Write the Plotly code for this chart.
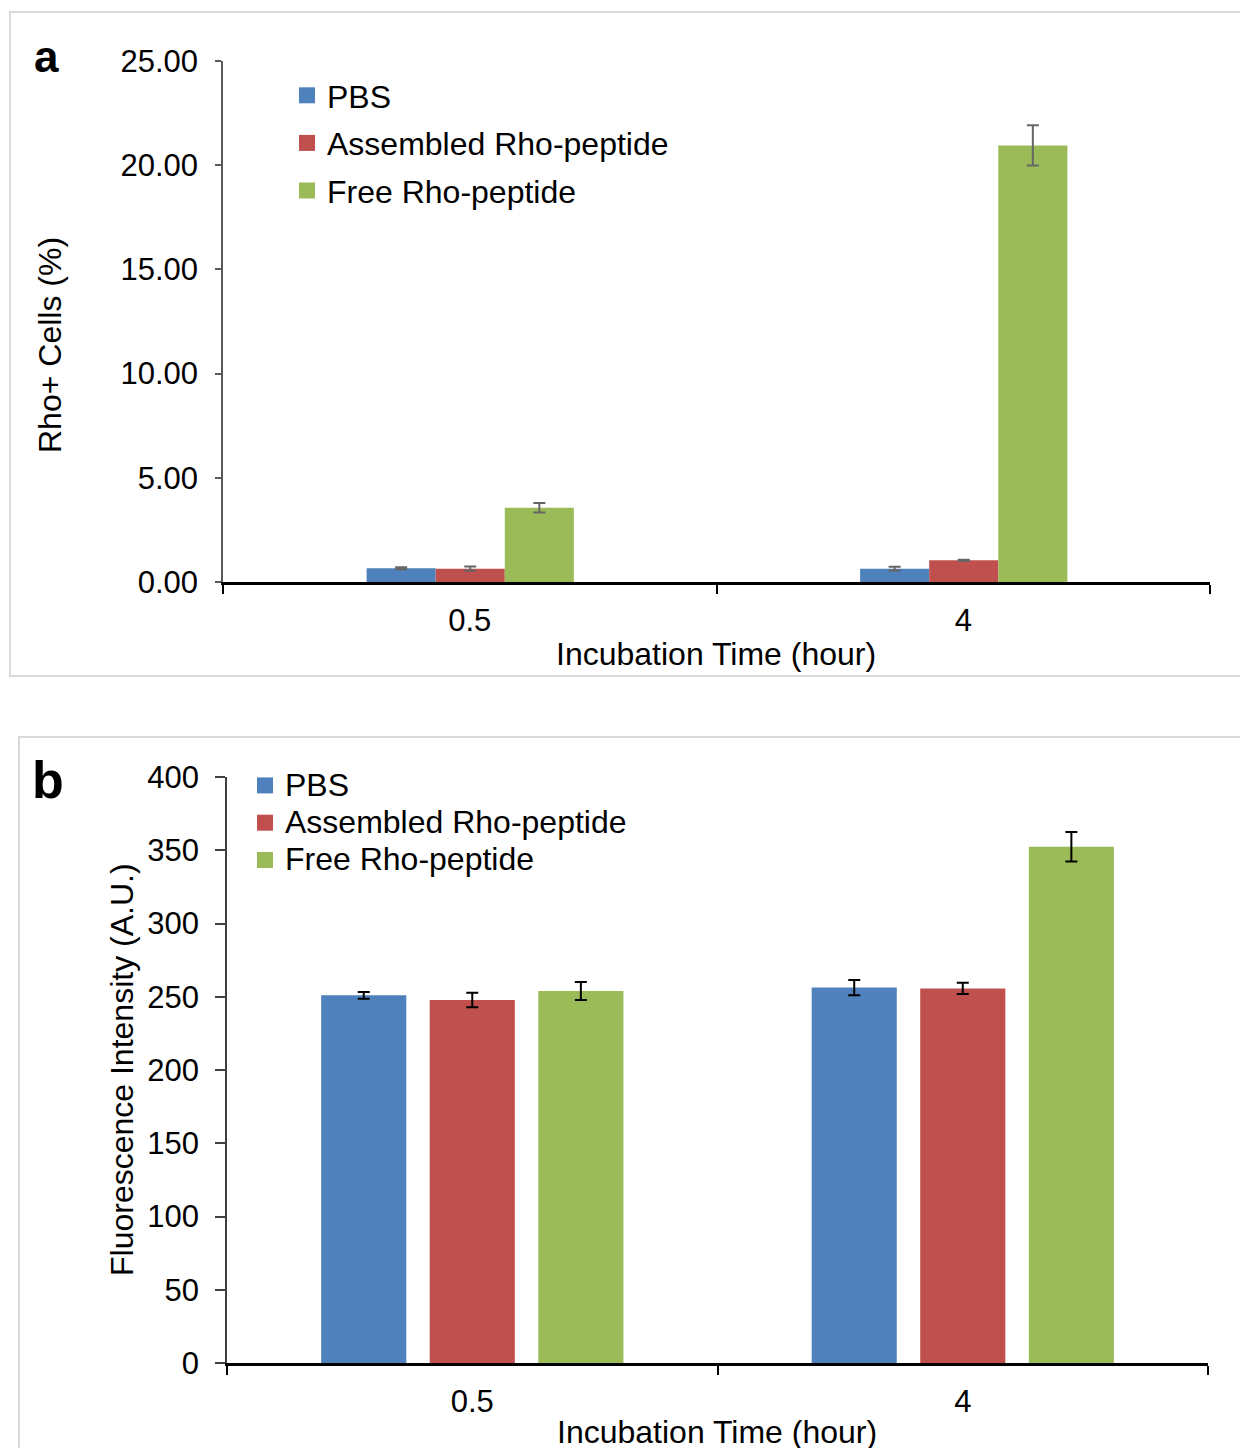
import plotly.graph_objects as go

W, H = 1248, 1448
OFF = 8  # page body margin in the browser

categories = ["0.5", "4"]
series_names = ["PBS", "Assembled Rho-peptide", "Free Rho-peptide"]
colors = ["#4F81BD", "#C0504D", "#9BBB59"]

# Panel a: Rho+ cells (%)
a_values = [[0.66, 0.64], [0.64, 1.04], [3.56, 20.95]]
a_errors = [[0.05, 0.09], [0.10, 0.03], [0.23, 0.97]]
a_ticks = [0, 5, 10, 15, 20, 25]

# Panel b: fluorescence intensity (A.U.)
b_values = [[251.0, 256.3], [247.8, 255.7], [253.9, 352.4]]
b_errors = [[2.3, 5.2], [5.0, 3.9], [6.2, 10.0]]
b_ticks = [0, 50, 100, 150, 200, 250, 300, 350, 400]

FONT = "Arial, Liberation Sans, sans-serif"

def px(v):  # screen x pixel -> paper
    return (v - OFF) / W

def py(v):  # screen y pixel -> paper
    return 1 - (v - OFF) / H

fig = go.Figure()

a_width = 0.14
a_offsets = [-0.209, -0.069, 0.071]
b_width = 0.1735
b_offsets = [-0.308, -0.0867, 0.1347]

for i, name in enumerate(series_names):
    fig.add_trace(go.Bar(
        x=categories, y=a_values[i], name=name, showlegend=False,
        marker=dict(color=colors[i], line=dict(width=0)),
        width=a_width, offset=a_offsets[i],
        error_y=dict(type="data", array=a_errors[i], color="#666666", thickness=2, width=6),
        xaxis="x", yaxis="y",
    ))
    fig.add_trace(go.Scatter(
        x=[None], y=[None], mode="markers", name=name,
        marker=dict(symbol="square", size=16, color=colors[i], line=dict(width=0)),
        xaxis="x", yaxis="y", legend="legend", legendgroup="a" + str(i),
    ))
for i, name in enumerate(series_names):
    fig.add_trace(go.Bar(
        x=categories, y=b_values[i], name=name, showlegend=False,
        marker=dict(color=colors[i], line=dict(width=0)),
        width=b_width, offset=b_offsets[i],
        error_y=dict(type="data", array=b_errors[i], color="#000000", thickness=2, width=6),
        xaxis="x2", yaxis="y2",
    ))
    fig.add_trace(go.Scatter(
        x=[None], y=[None], mode="markers",
        name='<span style="font-size:32px">' + name + '</span>',
        marker=dict(symbol="square", size=16, color=colors[i], line=dict(width=0)),
        xaxis="x2", yaxis="y2", legend="legend2", legendgroup="b" + str(i),
    ))

xcommon = dict(type="category", range=[-0.5, 1.5], showline=True, linecolor="#000000",
               linewidth=2.5, ticks="outside", tickson="boundaries", ticklen=9,
               tickcolor="#000000", tickwidth=1.5, showgrid=False, zeroline=False,
               tickfont=dict(family=FONT, size=31, color="#000000"), ticklabelstandoff=9)
ycommon = dict(showline=True, linewidth=1.5, ticks="outside", tickwidth=1.5,
               showgrid=False, zeroline=False,
               tickfont=dict(family=FONT, size=31, color="#000000"))

fig.update_layout(
    width=W, height=H, margin=dict(l=0, r=0, t=0, b=0, autoexpand=False),
    paper_bgcolor="white", plot_bgcolor="white", barmode="overlay",
    font=dict(family=FONT, size=32, color="#000000"),
    xaxis=dict(xcommon, domain=[px(223), px(1210)], anchor="y"),
    yaxis=dict(ycommon, domain=[py(582), py(61)], range=[0, 25], tickvals=a_ticks,
               tickformat=".2f", anchor="x", linecolor="#595959", tickcolor="#595959",
               ticklen=6, ticklabelstandoff=11),
    xaxis2=dict(xcommon, domain=[px(227), px(1208)], anchor="y2"),
    yaxis2=dict(ycommon, domain=[py(1363), py(777)], range=[0, 400], tickvals=b_ticks,
                anchor="x2", linecolor="#404040", tickcolor="#404040",
                ticklen=10, ticklabelstandoff=10),
    legend=dict(x=px(287), y=py(68), xanchor="left", yanchor="top", bgcolor="rgba(0,0,0,0)",
                font=dict(family=FONT, size=32), tracegroupgap=3, itemclick=False),
    legend2=dict(x=px(245), y=py(762), xanchor="left", yanchor="top", bgcolor="rgba(0,0,0,0)",
                 font=dict(family=FONT, size=26), tracegroupgap=0.5, itemclick=False),
    showlegend=True,
)

# panel frames
fig.add_shape(type="rect", xref="paper", yref="paper", x0=px(10), x1=px(1270),
              y0=py(676), y1=py(12), line=dict(color="#d9d9d9", width=2), layer="below")
fig.add_shape(type="rect", xref="paper", yref="paper", x0=px(19), x1=px(1270),
              y0=py(1470), y1=py(737), line=dict(color="#d9d9d9", width=2), layer="below")

ann = [
    dict(text="<b>a</b>", x=px(46), y=py(57), font=dict(size=44)),
    dict(text="<b>b</b>", x=px(48), y=py(780), font=dict(size=52)),
    dict(text="Rho+ Cells (%)", x=px(50), y=py(345), textangle=-90, font=dict(size=32)),
    dict(text="Fluorescence Intensity (A.U.)", x=px(122), y=py(1070), textangle=-90,
         font=dict(size=32)),
    dict(text="Incubation Time (hour)", x=px(716), y=py(654), font=dict(size=32)),
    dict(text="Incubation Time (hour)", x=px(717), y=py(1432), font=dict(size=32)),
]
for a in ann:
    fig.add_annotation(xref="paper", yref="paper", showarrow=False, xanchor="center",
                       yanchor="middle", font_family=FONT, font_color="#000000", **a)

fig.write_html("out.html")
